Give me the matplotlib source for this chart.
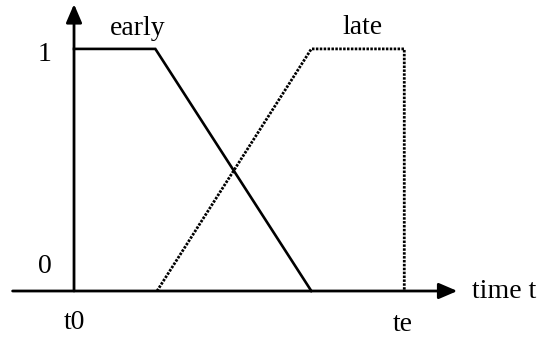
import matplotlib
matplotlib.use('Agg')
from matplotlib import pyplot as plt

# membership functions, time in arbitrary units (t0 = 0, te = 10)
early_t = [0, 2.45, 7.15]
early_mu = [1, 1, 0]
late_t = [2.5, 7.15, 9.95, 9.95]
late_mu = [0, 1, 1, 0]

plt.rcParams['font.family'] = ['Liberation Serif', 'DejaVu Serif']

fig = plt.figure(figsize=(5.48, 3.37), dpi=100)
ax = fig.add_axes([0, 0, 1, 1])
ax.set_xlim(-2.23, 14.28)
ax.set_ylim(-0.19, 1.202)
ax.axis('off')

arrow = dict(arrowstyle='-|>,head_length=0.7,head_width=0.3', color='black',
             lw=2.0, shrinkA=0, shrinkB=0, mutation_scale=16)
ax.annotate('', xy=(11.55, 0), xytext=(-1.85, 0), arrowprops=arrow)
ax.annotate('', xy=(0, 1.185), xytext=(0, 0), arrowprops=arrow)

ax.plot(early_t, early_mu, color='black', lw=1.9, solid_joinstyle='miter')
ax.plot(late_t, late_mu, color='black', lw=2.0, linestyle=(0, (0.9, 0.5)))

fs = 20
ax.text(1.92, 1.085, 'early', fontsize=fs, ha='center', va='center')
ax.text(8.7, 1.09, 'late', fontsize=fs, ha='center', va='center')
ax.text(-0.9, 0.975, '1', fontsize=fs, ha='center', va='center')
ax.text(-0.87, 0.1, '0', fontsize=fs, ha='center', va='center')
ax.text(0, -0.13, 't0', fontsize=fs, ha='center', va='center')
ax.text(9.9, -0.14, 'te', fontsize=fs, ha='center', va='center')
ax.text(12.0, 0.0, 'time t', fontsize=fs, ha='left', va='center')

fig.savefig('out.png', dpi=100)
